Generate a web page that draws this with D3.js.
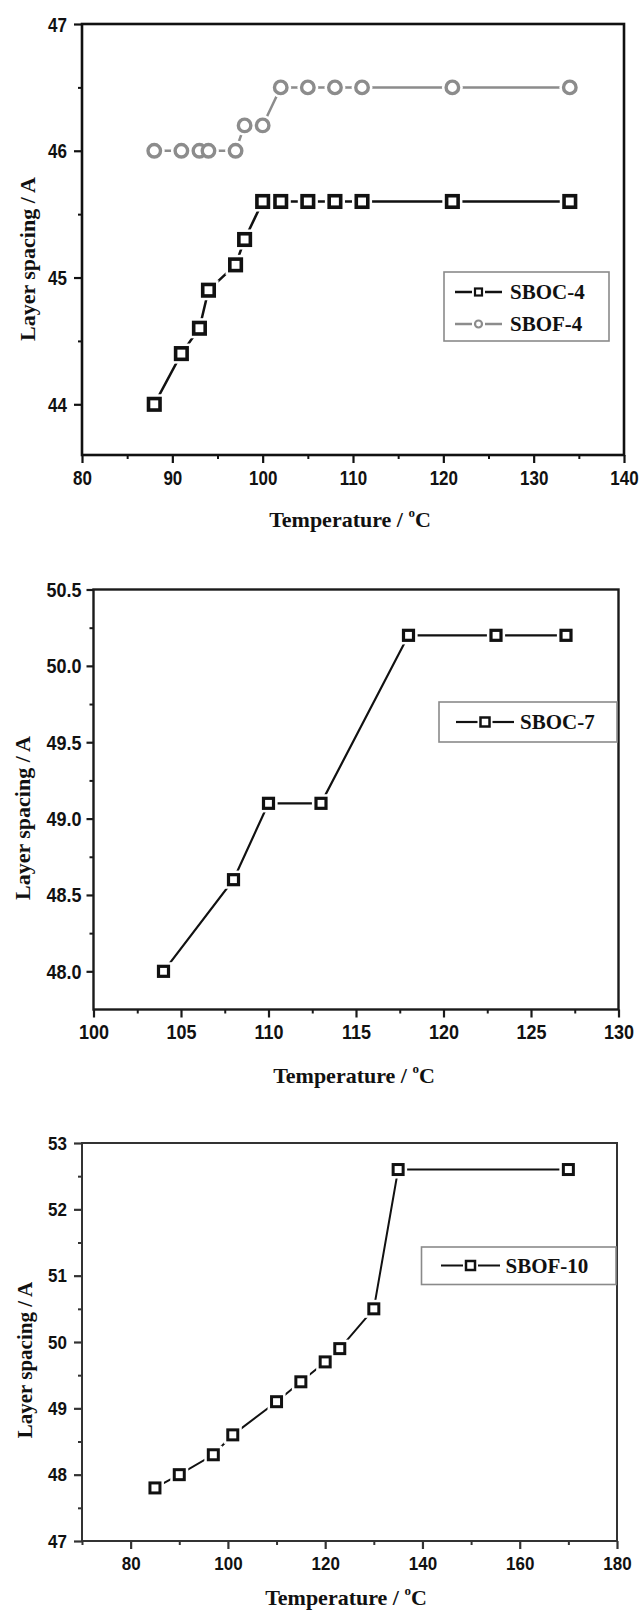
<!DOCTYPE html>
<html>
<head>
<meta charset="UTF-8">
<title>Layer spacing vs temperature</title>
<style>
  body { margin: 0; background: #fff; }
  svg { display: block; }
</style>
</head>
<body>
<div id="chart"></div>
<script src="https://cdnjs.cloudflare.com/ajax/libs/d3/7.8.5/d3.min.js"></script>
<script>
// data
const sboc4Temp = [88, 91, 93, 94, 97, 98, 100, 102, 105, 108, 111, 121, 134];
const sboc4Spacing = [44.0, 44.4, 44.6, 44.9, 45.1, 45.3, 45.6, 45.6, 45.6, 45.6, 45.6, 45.6, 45.6];
const sbof4Temp = [88, 91, 93, 94, 97, 98, 100, 102, 105, 108, 111, 121, 134];
const sbof4Spacing = [46.0, 46.0, 46.0, 46.0, 46.0, 46.2, 46.2, 46.5, 46.5, 46.5, 46.5, 46.5, 46.5];
const sboc7Temp = [104, 108, 110, 113, 118, 123, 127];
const sboc7Spacing = [48.0, 48.6, 49.1, 49.1, 50.2, 50.2, 50.2];
const sbof10Temp = [85, 90, 97, 101, 110, 115, 120, 123, 130, 135, 170];
const sbof10Spacing = [47.8, 48.0, 48.3, 48.6, 49.1, 49.4, 49.7, 49.9, 50.5, 52.6, 52.6];

// tick values
const p1xMajor = [80, 90, 100, 110, 120, 130, 140];
const p1xMinor = [85, 95, 105, 115, 125, 135];
const p1yMajor = [44, 45, 46, 47];
const p1yMinor = [44.5, 45.5, 46.5];
const p2xMajor = [100, 105, 110, 115, 120, 125, 130];
const p2xMinor = [102.5, 107.5, 112.5, 117.5, 122.5, 127.5];
const p2yMajor = [48.0, 48.5, 49.0, 49.5, 50.0, 50.5];
const p2yMinor = [48.25, 48.75, 49.25, 49.75, 50.25];
const p3xMajor = [80, 100, 120, 140, 160, 180];
const p3xMinor = [70, 90, 110, 130, 150, 170];
const p3yMajor = [47, 48, 49, 50, 51, 52, 53];
const p3yMinor = [47.5, 48.5, 49.5, 50.5, 51.5, 52.5];

const xTitle = "Temperature / ";
const yTitle = "Layer spacing / A";

const W = 643, H = 1614;
const svg = d3.select("#chart").append("svg")
  .attr("width", W).attr("height", H);
svg.append("rect").attr("width", W).attr("height", H).attr("fill", "#fff");

const serif = "'Liberation Serif', 'Times New Roman', serif";
const sans = "'Liberation Sans', Arial, sans-serif";

function zip(a, b) { return a.map((v, i) => [v, b[i]]); }

function drawPanel(cfg) {
  const g = svg.append("g");
  const x = d3.scaleLinear().domain(cfg.xDomain).range([cfg.left, cfg.right]);
  const y = d3.scaleLinear().domain(cfg.yDomain).range([cfg.bottom, cfg.top]);
  const st = cfg.stretch;

  function tidy(sel, w) {
    sel.select(".domain").remove();
    sel.selectAll("line").attr("stroke", cfg.axisColor).attr("stroke-width", w);
    sel.selectAll("text")
      .attr("font-family", sans).attr("font-weight", "bold")
      .attr("font-size", cfg.tickFont).attr("fill", "#111");
  }

  // minor ticks
  g.append("g").attr("transform", `translate(0,${cfg.bottom})`)
    .call(d3.axisBottom(x).tickValues(cfg.xMinor).tickSize(4).tickFormat(""))
    .call(s => tidy(s, 2));
  g.append("g").attr("transform", `translate(${cfg.left},0)`)
    .call(d3.axisLeft(y).tickValues(cfg.yMinor).tickSize(4).tickFormat(""))
    .call(s => tidy(s, 2));
  // major ticks, labels stretched a little vertically like the original
  g.append("g").attr("transform", `translate(0,${cfg.bottom})`)
    .call(d3.axisBottom(x).tickValues(cfg.xMajor).tickSize(8).tickFormat(d3.format(cfg.xFmt)))
    .call(s => tidy(s, 2.2))
    .call(s => s.selectAll("text").attr("dy", null).attr("dominant-baseline", "central")
      .attr("y", 23 / st).attr("transform", `scale(1,${st})`));
  g.append("g").attr("transform", `translate(${cfg.left},0)`)
    .call(d3.axisLeft(y).tickValues(cfg.yMajor).tickSize(cfg.yTick).tickPadding(cfg.yPad).tickFormat(d3.format(cfg.yFmt)))
    .call(s => tidy(s, 2.2))
    .call(s => s.selectAll("text").attr("dy", null).attr("dominant-baseline", "central")
      .attr("transform", `scale(1,${st})`));

  // frame
  g.append("rect")
    .attr("x", cfg.left).attr("y", cfg.top)
    .attr("width", cfg.right - cfg.left).attr("height", cfg.bottom - cfg.top)
    .attr("fill", "none").attr("stroke", cfg.axisColor).attr("stroke-width", cfg.frameW);

  // series
  cfg.series.forEach(s => {
    const pts = zip(s.t, s.v);
    g.append("path")
      .attr("d", d3.line().x(d => x(d[0])).y(d => y(d[1]))(pts))
      .attr("fill", "none").attr("stroke", s.color).attr("stroke-width", s.lineW);
  });
  // white halo so the line stops short of each marker
  cfg.series.forEach(s => {
    const pts = zip(s.t, s.v);
    const hs = s.size + s.markW + 5;
    const tag = s.shape === "square" ? "rect" : "circle";
    g.append("g").selectAll(tag).data(pts).join(tag)
      .each(function (d) {
        const el = d3.select(this);
        if (s.shape === "square") el.attr("x", x(d[0]) - hs / 2).attr("y", y(d[1]) - hs / 2).attr("width", hs).attr("height", hs);
        else el.attr("cx", x(d[0])).attr("cy", y(d[1])).attr("r", hs / 2);
      })
      .attr("fill", "#fff");
  });
  cfg.series.forEach(s => {
    const pts = zip(s.t, s.v);
    const sz = s.size;
    const tag = s.shape === "square" ? "rect" : "circle";
    g.append("g").selectAll(tag).data(pts).join(tag)
      .each(function (d) {
        const el = d3.select(this);
        if (s.shape === "square") el.attr("x", x(d[0]) - sz / 2).attr("y", y(d[1]) - sz / 2).attr("width", sz).attr("height", sz);
        else el.attr("cx", x(d[0])).attr("cy", y(d[1])).attr("r", sz / 2);
      })
      .attr("fill", "#fff").attr("stroke", s.color).attr("stroke-width", s.markW);
  });

  // legend
  const lg = cfg.legend;
  g.append("rect")
    .attr("x", lg.x0).attr("y", lg.y0).attr("width", lg.x1 - lg.x0).attr("height", lg.y1 - lg.y0)
    .attr("fill", "#fff").attr("stroke", "#8a8a8a").attr("stroke-width", 1.6);
  cfg.series.forEach((s, i) => {
    const ry = lg.rows[i];
    const mx = (lg.lineX0 + lg.lineX1) / 2;
    const ms = lg.markSize;
    const gap = ms / 2 + 3;
    g.append("line").attr("x1", lg.lineX0).attr("x2", mx - gap).attr("y1", ry).attr("y2", ry)
      .attr("stroke", s.color).attr("stroke-width", s.lineW);
    g.append("line").attr("x1", mx + gap).attr("x2", lg.lineX1).attr("y1", ry).attr("y2", ry)
      .attr("stroke", s.color).attr("stroke-width", s.lineW);
    if (s.shape === "square") {
      g.append("rect").attr("x", mx - ms / 2).attr("y", ry - ms / 2).attr("width", ms).attr("height", ms)
        .attr("fill", "#fff").attr("stroke", s.color).attr("stroke-width", lg.markW);
    } else {
      g.append("circle").attr("cx", mx).attr("cy", ry).attr("r", ms / 2)
        .attr("fill", "#fff").attr("stroke", s.color).attr("stroke-width", lg.markW);
    }
    g.append("text").attr("x", lg.textX).attr("y", ry).attr("dy", "0.35em")
      .attr("font-family", serif).attr("font-weight", "bold").attr("font-size", lg.font)
      .attr("fill", "#111").text(s.name);
  });

  // axis titles
  const xt = g.append("text").attr("x", cfg.xTitleX).attr("y", cfg.xTitleY)
    .attr("text-anchor", "middle").attr("font-family", serif).attr("font-weight", "bold")
    .attr("font-size", 22).attr("fill", "#111");
  xt.append("tspan").text(xTitle);
  xt.append("tspan").attr("font-size", 13).attr("dy", -10).text("o");
  xt.append("tspan").attr("dy", 10).text("C");

  g.append("text")
    .attr("transform", `translate(${cfg.yTitleX},${cfg.yTitleY}) rotate(-90)`)
    .attr("text-anchor", "middle").attr("dy", "0.35em")
    .attr("font-family", serif).attr("font-weight", "bold").attr("font-size", cfg.yTitleFont)
    .attr("fill", "#111").text(yTitle);
}

drawPanel({
  left: 82, right: 624, top: 24, bottom: 455,
  xDomain: [80, 140], yDomain: [43.6, 47],
  xMajor: p1xMajor, xMinor: p1xMinor, yMajor: p1yMajor, yMinor: p1yMinor,
  xFmt: "d", yFmt: "d", yTick: 8, yPad: 7, tickFont: 17, stretch: 1.2,
  axisColor: "#111", frameW: 2.6,
  xTitleX: 350, xTitleY: 527, yTitleX: 27, yTitleY: 259, yTitleFont: 22,
  series: [
    { name: "SBOC-4", t: sboc4Temp, v: sboc4Spacing, shape: "square", color: "#111", size: 11.5, markW: 3.6, lineW: 2.5 },
    { name: "SBOF-4", t: sbof4Temp, v: sbof4Spacing, shape: "circle", color: "#8c8c8c", size: 12.5, markW: 3.4, lineW: 2.5 }
  ],
  legend: { x0: 444, x1: 609, y0: 272, y1: 341, rows: [292, 324], lineX0: 455, lineX1: 502, textX: 510, markSize: 7, markW: 2.2, font: 21 }
});

drawPanel({
  left: 93.5, right: 618.5, top: 589.5, bottom: 1009.5,
  xDomain: [100, 130], yDomain: [47.75, 50.5],
  xMajor: p2xMajor, xMinor: p2xMinor, yMajor: p2yMajor, yMinor: p2yMinor,
  xFmt: "d", yFmt: ".1f", yTick: 7, yPad: 5, tickFont: 18, stretch: 1.12,
  axisColor: "#1a1a1a", frameW: 2.4,
  xTitleX: 354, xTitleY: 1083, yTitleX: 22.5, yTitleY: 818, yTitleFont: 22,
  series: [
    { name: "SBOC-7", t: sboc7Temp, v: sboc7Spacing, shape: "square", color: "#111", size: 10, markW: 3.2, lineW: 2.2 }
  ],
  legend: { x0: 439, x1: 617, y0: 702, y1: 742, rows: [722], lineX0: 456, lineX1: 514, textX: 520, markSize: 9, markW: 2.5, font: 21 }
});

drawPanel({
  left: 82, right: 617, top: 1143, bottom: 1541,
  xDomain: [70, 180], yDomain: [47, 53],
  xMajor: p3xMajor, xMinor: p3xMinor, yMajor: p3yMajor, yMinor: p3yMinor,
  xFmt: "d", yFmt: "d", yTick: 8, yPad: 7, tickFont: 17, stretch: 1.12,
  axisColor: "#333", frameW: 2,
  xTitleX: 346, xTitleY: 1605, yTitleX: 24.6, yTitleY: 1360, yTitleFont: 21,
  series: [
    { name: "SBOF-10", t: sbof10Temp, v: sbof10Spacing, shape: "square", color: "#111", size: 10, markW: 3, lineW: 2 }
  ],
  legend: { x0: 421.5, x1: 616, y0: 1247, y1: 1284.5, rows: [1265.5], lineX0: 441, lineX1: 500, textX: 505.5, markSize: 9, markW: 2.5, font: 21 }
});
</script>
</body>
</html>
